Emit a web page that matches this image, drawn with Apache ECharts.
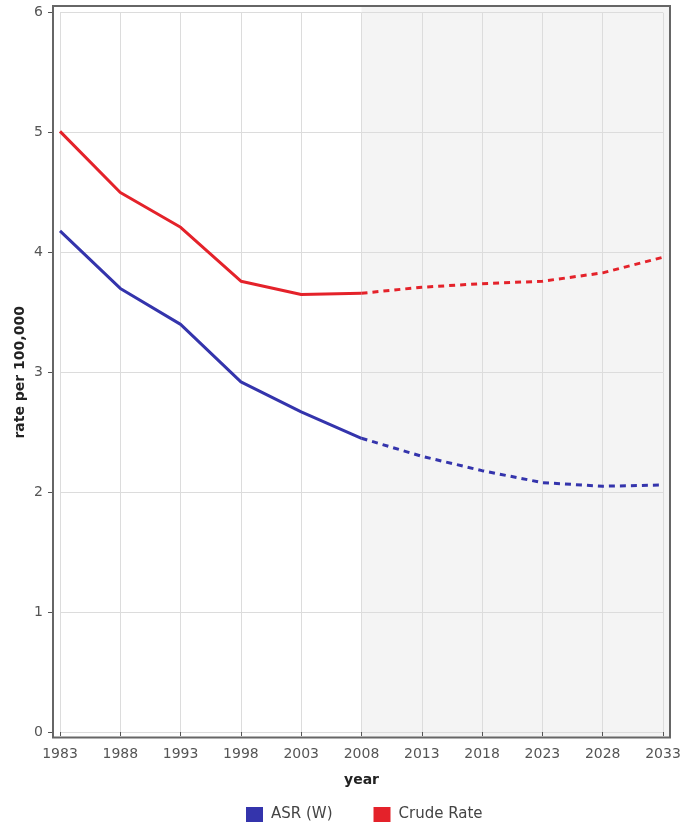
<!DOCTYPE html>
<html>
<head>
<meta charset="utf-8">
<script src="https://cdn.jsdelivr.net/npm/echarts@6/dist/echarts.min.js"></script>
<style>html,body{margin:0;padding:0;background:#fff}#c{width:692px;height:823px}</style>
</head>
<body>
<div id="c"></div>
<script>
// ---- data ----
const years = [1983, 1988, 1993, 1998, 2003, 2008, 2013, 2018, 2023, 2028, 2033];
const asrW = [4.18, 3.70, 3.40, 2.92, 2.67, 2.45, 2.30, 2.18, 2.08, 2.05, 2.06];
const crudeRate = [5.01, 4.50, 4.21, 3.76, 3.65, 3.66, 3.71, 3.74, 3.76, 3.83, 3.96];
const lastObservedYear = 2008;
const yTicks = [0, 1, 2, 3, 4, 5, 6];

// ---- layout ----
const L = 60, R = 663, T = 12.7, B = 732;   // data area
const pad = 7;                             // frame padding around data area
const pxPerYear = (R - L) / (years[years.length - 1] - years[0]);

function pairs(vals, keep) {
  const out = [];
  years.forEach((y, i) => { if (keep(y)) out.push([y, vals[i]]); });
  return out;
}
const obs = y => y <= lastObservedYear;
const proj = y => y >= lastObservedYear;

const BLUE = '#3434ac', RED = '#e4222a';
const font = 'DejaVu Sans';

const chart = echarts.init(document.getElementById('c'));
chart.setOption({
  animation: false,
  textStyle: { fontFamily: font },
  grid: [
    { left: L, top: T, width: R - L, height: B - T },
    { left: L - pad, top: T - 6.7, width: R - L + 2 * pad, height: B - T + 6.7 + 5.5,
      show: true, backgroundColor: 'transparent', borderColor: '#666', borderWidth: 2, z: 3 }
  ],
  xAxis: [
    { type: 'value', gridIndex: 0, min: years[0], max: years[years.length - 1], interval: 5,
      offset: 5.5, z: 2,
      axisLine: { show: false },
      axisTick: { show: true, length: 4, lineStyle: { color: '#555' } },
      axisLabel: { color: '#555', fontSize: 14, margin: 10, formatter: v => String(v) },
      splitLine: { show: true, lineStyle: { color: '#dcdcdc', width: 1 } },
      name: 'year', nameLocation: 'middle', nameGap: 36,
      nameTextStyle: { fontWeight: 'bold', fontSize: 14, color: '#222' } },
    { type: 'value', gridIndex: 1,
      min: years[0] - pad / pxPerYear, max: years[years.length - 1] + pad / pxPerYear,
      show: false }
  ],
  yAxis: [
    { type: 'value', gridIndex: 0, min: yTicks[0], max: yTicks[yTicks.length - 1], interval: 1,
      offset: 7, z: 2,
      axisLine: { show: false },
      axisTick: { show: true, length: 5, lineStyle: { color: '#555' } },
      axisLabel: { color: '#555', fontSize: 14, margin: 10 },
      splitLine: { show: true, lineStyle: { color: '#dcdcdc', width: 1 } },
      name: 'rate per 100,000', nameLocation: 'middle', nameGap: 26, nameMoveOverlap: false,
      nameTextStyle: { fontWeight: 'bold', fontSize: 14, color: '#222' } },
    { type: 'value', gridIndex: 1, min: 0, max: 1, show: false }
  ],
  legend: {
    bottom: 1, left: 246, padding: 0, itemWidth: 17, itemHeight: 15, itemGap: 41,
    icon: 'rect',
    textStyle: { fontSize: 15, color: '#444', padding: [0, 0, 0, 3] },
    data: ['ASR (W)', 'Crude Rate']
  },
  series: [
    { type: 'line', name: 'shade', xAxisIndex: 1, yAxisIndex: 1, data: [], z: 0,
      silent: true,
      markArea: { silent: true, itemStyle: { color: '#f4f4f4' },
        data: [[{ xAxis: lastObservedYear }, { xAxis: years[years.length - 1] + pad / pxPerYear }]] } },
    { type: 'line', name: 'ASR (W)', data: pairs(asrW, obs), showSymbol: false, z: 5,
      itemStyle: { color: BLUE }, lineStyle: { color: BLUE, width: 3 } },
    { type: 'line', name: 'ASR (W)', data: pairs(asrW, proj), showSymbol: false, z: 5,
      itemStyle: { color: BLUE }, lineStyle: { color: BLUE, width: 3, type: [6, 5] } },
    { type: 'line', name: 'Crude Rate', data: pairs(crudeRate, obs), showSymbol: false, z: 5,
      itemStyle: { color: RED }, lineStyle: { color: RED, width: 3 } },
    { type: 'line', name: 'Crude Rate', data: pairs(crudeRate, proj), showSymbol: false, z: 5,
      itemStyle: { color: RED }, lineStyle: { color: RED, width: 3, type: [6, 5] } }
  ]
});
</script>
</body>
</html>
